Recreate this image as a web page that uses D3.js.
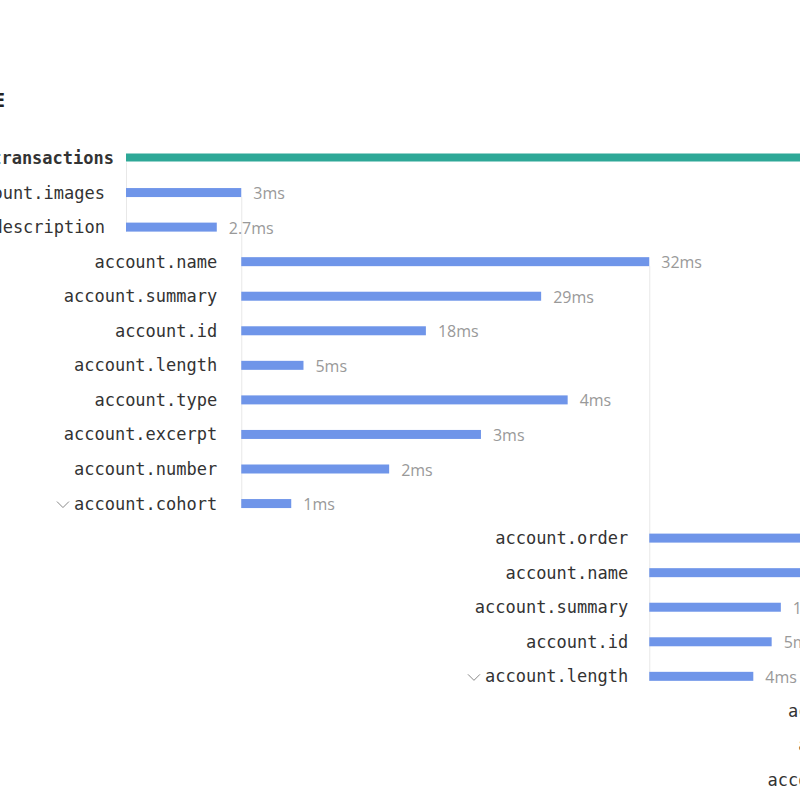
<!DOCTYPE html>
<html><head><meta charset="utf-8">
<script src="https://cdn.jsdelivr.net/npm/d3@7"></script>
<style>body{margin:0;background:#fff;overflow:hidden} svg{display:block}</style>
</head><body>
<script>
// ---- data ----
const chartTitle = "TRACE";
const spanNames = ["transactions","account.images","account.description",
  "account.name","account.summary","account.id","account.length","account.type","account.excerpt","account.number","account.cohort",
  "account.order","account.name","account.summary","account.id","account.length",
  "account.order","account.name","account.summary"];
const spanDepth = [0,1,1, 2,2,2,2,2,2,2,2, 3,3,3,3,3, 4,4,4];
// bar lengths (span units)
const spanDurations = [80,11.3,8.9, 40,29.4,18.1,6.1,32,23.5,14.5,4.9, 28.7,24,12.9,12,10.2, 20,18,15];
const durationLabels = ["","3ms","2.7ms", "32ms","29ms","18ms","5ms","4ms","3ms","2ms","1ms",
  "28ms","21ms","12ms","5ms","4ms", "3ms","2ms","1ms"];
const expandedSpans = [true,false,true, false,false,false,false,false,false,false,true,
  false,false,false,false,true, false,false,false];

// ---- layout ----
const W = 800, H = 800;
const origin = 126;
const svg = d3.select("body").append("svg").attr("width", W).attr("height", H);
const x = d3.scaleLinear().domain([0, 40]).range([0, 408]);
const y = d3.scalePoint().domain(d3.range(spanNames.length)).range([158.5, 780.5]);
const barH = 9;

const rows = spanNames.map((n, i) => ({i, name: n, depth: spanDepth[i], dur: spanDurations[i],
  label: durationLabels[i], expanded: expandedSpans[i]}));
const maxDepth = d3.max(spanDepth);
const groupStart = [], anchorRow = [];
groupStart[0] = origin; groupStart[1] = origin; anchorRow[1] = 0;
for (let d = 2; d <= maxDepth; d++) {
  const prev = rows.filter(r => r.depth === d - 1);
  const a = prev.reduce((m, r) => r.dur > m.dur ? r : m, prev[0]);
  anchorRow[d] = a.i;
  groupStart[d] = groupStart[d - 1] + x(a.dur);
}

// guide lines
for (let d = 1; d <= maxDepth; d++) {
  const members = rows.filter(r => r.depth === d);
  const last = members[members.length - 1];
  svg.append("line")
    .attr("x1", groupStart[d] + 0.5).attr("x2", groupStart[d] + 0.5)
    .attr("y1", y(anchorRow[d]) - 0.5 + barH / 2).attr("y2", y(last.i) - 0.5 + barH / 2)
    .attr("stroke", "#e8e8e8").attr("stroke-width", 1);
}

// title
svg.append("text").attr("x", 5).attr("y", 107).attr("text-anchor", "end")
  .attr("font-family", "'Open Sans', sans-serif").attr("font-weight", 700)
  .attr("font-size", 20).attr("fill", "#222").text(chartTitle);

// bars
svg.selectAll("rect.bar").data(rows).join("rect").attr("class", "bar")
  .attr("x", d => groupStart[d.depth])
  .attr("y", d => y(d.i) - 0.5 - barH / 2)
  .attr("width", d => x(d.dur))
  .attr("height", d => d.depth === 0 ? barH - 1 : barH)
  .attr("fill", d => d.depth === 0 ? "#2ea897" : "#6f95e9");

// span labels
const labelGap = 21;
const lbl = svg.selectAll("text.lbl").data(rows).join("text").attr("class", "lbl")
  .attr("x", d => d.depth === 0 ? groupStart[0] - 12 : groupStart[d.depth] - labelGap - (d.depth === 2 ? 3 : 0))
  .attr("y", d => y(d.i) + 5.5)
  .attr("text-anchor", "end")
  .attr("font-family", "'DejaVu Sans Mono', monospace")
  .attr("font-size", 17)
  .attr("font-weight", d => d.depth === 0 ? 700 : 400)
  .attr("fill", "#333")
  .text(d => d.name);

// chevrons for expanded spans
lbl.each(function(d) {
  if (!d.expanded || d.depth === 0) return;
  const w = this.getComputedTextLength();
  const x1 = +this.getAttribute("x") - w - 5;
  const cy = y(d.i);
  svg.append("path")
    .attr("d", `M${x1 - 12},${cy - 2.5} L${x1 - 6},${cy + 3.5} L${x1},${cy - 2.5}`)
    .attr("fill", "none").attr("stroke", "#888").attr("stroke-width", 1);
});

// duration labels
svg.selectAll("text.dur").data(rows.filter(r => r.label)).join("text").attr("class", "dur")
  .attr("x", d => groupStart[d.depth] + x(d.dur) + 12)
  .attr("y", d => y(d.i) + 6)
  .attr("font-family", "'Open Sans', sans-serif")
  .attr("font-size", 16)
  .attr("fill", "#999")
  .text(d => d.label);
</script>
</body></html>
